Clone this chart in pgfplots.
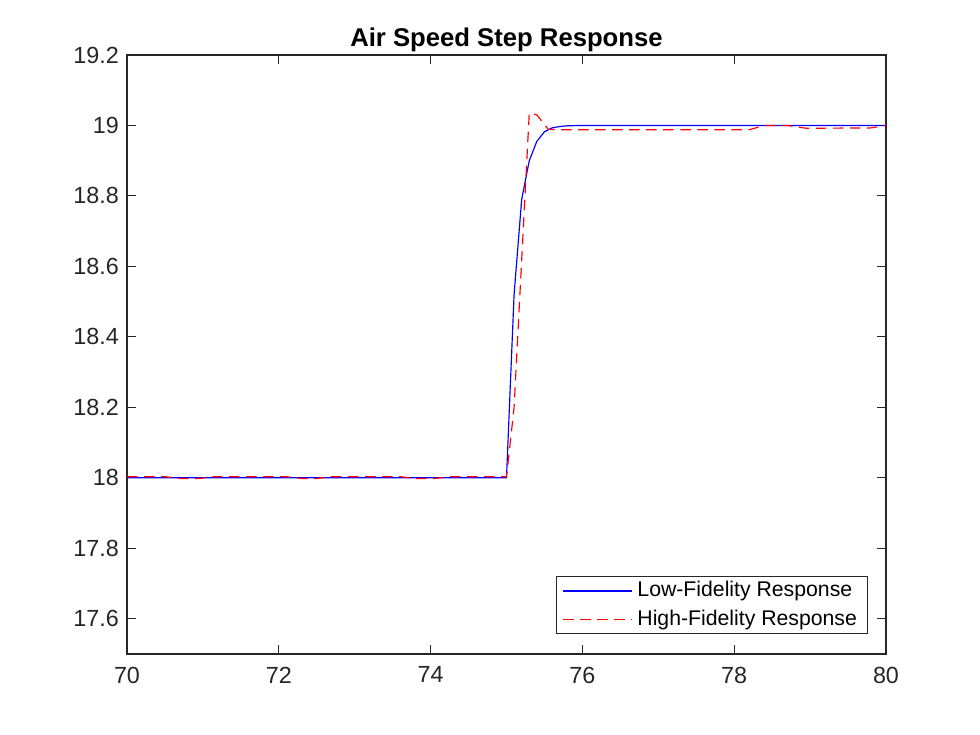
\documentclass[border=0pt]{standalone}
\usepackage{fontspec}
\setmainfont{Liberation Sans}
\usepackage{pgfplots}
\pgfplotsset{compat=1.18}
\definecolor{axgray}{rgb}{0.15,0.15,0.15}
\begin{document}
\begin{tikzpicture}
\begin{axis}[
  scale only axis,
  width=325.3pt, height=256.7pt,
  xmin=70, xmax=80, ymin=17.5, ymax=19.2,
  xtick={70,72,...,80},
  ytick={17.6,17.8,18,18.2,18.4,18.6,18.8,19,19.2},
  yticklabels={17.6,17.8,18,18.2,18.4,18.6,18.8,19,19.2},
  tick align=inside,
  major tick length=4pt,
  axis line style={axgray, line width=0.5pt},
  tick style={axgray, line width=0.5pt},
  tick label style={font=\fontsize{10}{12}\selectfont, text=axgray},
  xticklabel style={yshift=-2pt},
  /pgf/number format/assume math mode=true,
  title={\textbf{Air Speed Step Response}},
  title style={font=\fontsize{11}{13}\selectfont, yshift=-8pt},
  legend style={at={(1,0)}, anchor=south east, xshift=-7.7pt, yshift=8.6pt,
    font=\fontsize{9.1}{10}\selectfont, draw=axgray, line width=0.5pt,
    inner xsep=2.5pt, inner ysep=0pt, row sep=0pt, cells={anchor=west,
    inner ysep=1.6pt}},
  legend image code/.code={\draw[#1, line width=0.55pt] (0pt,0pt) -- (29.5pt,0pt);},
]
\addplot[color=blue, line width=0.5pt] coordinates {
  (70,18.0) (75.0,18.0) (75.1,18.52) (75.2,18.79) (75.3,18.90) (75.4,18.955)
  (75.5,18.982) (75.6,18.993) (75.7,18.997) (75.8,18.999) (76,19.0) (80,19.0)
};
\addplot[color=red, line width=0.5pt, dash pattern=on 4.5pt off 2.8pt] coordinates {
  (70,18.003) (70.5,18.003) (70.7,17.998) (70.95,17.998) (71.15,18.003)
  (72.1,18.003) (72.3,17.998) (72.5,17.998) (72.7,18.003)
  (73.6,18.003) (73.8,17.998) (74.05,17.998) (74.25,18.003)
  (75.0,18.003) (75.1,18.2) (75.3,19.035) (75.4,19.03) (75.55,18.989)
  (75.7,18.988) (78.2,18.988) (78.4,19.0) (78.7,19.0) (78.95,18.992)
  (79.8,18.993) (80,19.0)
};
\legend{Low-Fidelity Response, High-Fidelity Response}
\end{axis}
\path (current axis.south west) ++(-54.43pt,-34.71pt) coordinate (bl);
\path (current axis.north east) ++(40.29pt,23.57pt) coordinate (tr);
\useasboundingbox (bl) rectangle (tr);
\end{tikzpicture}
\end{document}
